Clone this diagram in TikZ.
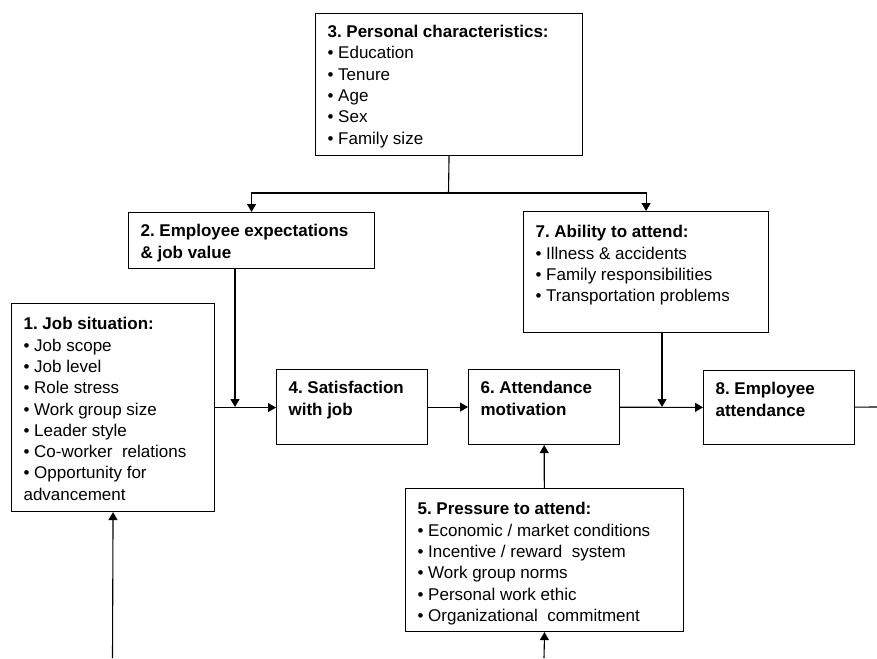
\documentclass[tikz,border=0pt]{standalone}
\usepackage{fontspec}
\setmainfont{Liberation Sans}
\usepackage{tikz}
\usetikzlibrary{positioning, arrows.meta}
\frenchspacing

\newcommand{\boxbody}[3]{\parbox[c][#2][t]{#1}{\raggedright #3}}

\tikzset{
  factor/.style={draw, line width=1.1pt, anchor=north west, inner xsep=12pt,
                 inner ysep=12pt, font=\fontsize{17}{21.3}\selectfont},
  conn/.style={line width=1.1pt},
  flow/.style={conn, -{Triangle[length=8pt, width=9pt]}}
}

\begin{document}
\begin{tikzpicture}[x=1pt, y=-1pt]
  \fill[white] (0,0) rectangle (877,658);
  \useasboundingbox (0,0) rectangle (877,658);

  \node[factor] (b3) at (315,12.7) {\boxbody{243pt}{118pt}{%
    \textbf{3. Personal characteristics:}\\
    • Education\\ • Tenure\\ • Age\\ • Sex\\ • Family size}};
  \node[factor] (b2) at (128,212) {\boxbody{222pt}{32pt}{%
    \textbf{2. Employee expectations\\ \& job value}}};
  \node[factor, inner ysep=14pt] (b7) at (523,211) {\boxbody{221pt}{93pt}{%
    \textbf{7. Ability to attend:}\\
    • Illness \& accidents\\ • Family responsibilities\\ • Transportation problems}};
  \node[factor, inner ysep=14pt] (b1) at (11,303) {\boxbody{179pt}{180pt}{%
    \textbf{1. Job situation:}\\
    • Job scope\\ • Job level\\ • Role stress\\ • Work group size\\
    • Leader style\\ • Co-worker~~relations\\ • Opportunity for\\ advancement}};
  \node[factor] (b4) at (276,369) {\boxbody{127pt}{51pt}{%
    \textbf{4. Satisfaction\\ with job}}};
  \node[factor] (b6) at (468,369) {\boxbody{127pt}{51pt}{%
    \textbf{6. Attendance\\ motivation}}};
  \node[factor] (b8) at (703,370) {\boxbody{127pt}{50pt}{%
    \textbf{8. Employee\\ attendance}}};
  \node[factor, inner ysep=14pt] (b5) at (405,488) {\boxbody{254pt}{115pt}{%
    \textbf{5. Pressure to attend:}\\
    • Economic / market conditions\\ • Incentive / reward~~system\\
    • Work group norms\\ • Personal work ethic\\ • Organizational~~commitment}};

  \coordinate (split) at (448.5,193);
  \coordinate (jexp) at (235,407);
  \coordinate (jabl) at (662,407);
  \coordinate (out) at (877,407);
  \coordinate (in1) at (112.5,658);
  \coordinate (in5) at (544,658);

  \draw[conn] (b3.south) -- (split);
  \draw[flow] (split) -| (b2.north);
  \draw[flow] (split) -| (b7.north);
  \draw[flow] (b1.east) -- (b4.west |- b1.east);
  \draw[flow] (jexp |- b2.south) -- (jexp);
  \draw[flow] (b4) -- (b6);
  \draw[flow] (b6) -- (b8);
  \draw[flow] (jabl |- b7.south) -- (jabl);
  \draw[conn] (b8) -- (out);
  \draw[flow] (b5) -- (b6);
  \draw[flow] (in5) -- (b5.south);
  \draw[flow] (in1) -- (b1.south);
\end{tikzpicture}
\end{document}
